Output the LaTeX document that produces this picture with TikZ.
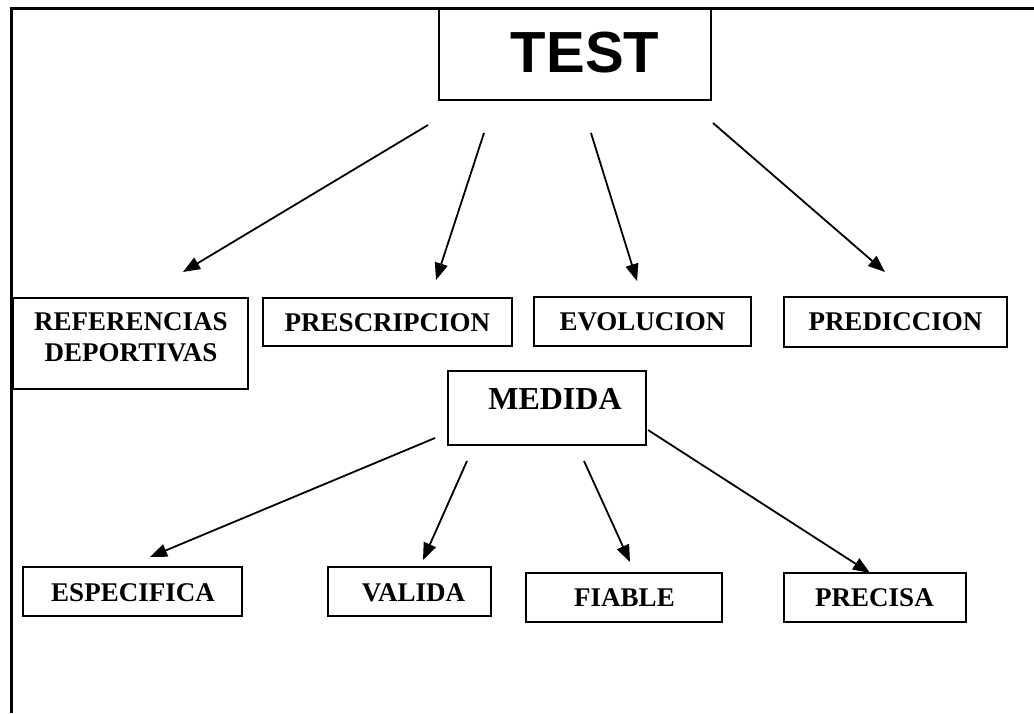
\documentclass[tikz,border=0pt]{standalone}
\usepackage{fontspec}
\setmainfont{Liberation Serif}
\newfontfamily\arialfont{Liberation Sans}
\usetikzlibrary{arrows.meta}
\begin{document}
\begin{tikzpicture}[x=1pt,y=-1pt,
  box/.style={draw,line width=2pt,inner sep=0pt},
  arr/.style={line width=1.8pt,-{Triangle[length=17pt,width=13pt]}},
  lbl/.style={font=\bfseries\fontsize{27}{31}\selectfont,align=center,inner sep=0pt},
  frameline/.style={line width=3pt}]
\useasboundingbox (0,0) rectangle (1034,713);
% frame
\coordinate (fbl) at (11,713);
\coordinate (ftl) at (11,8);
\coordinate (ftr) at (1034,8);
\draw[frameline] (fbl) -- (ftl) -- (ftr);
% boxes
\node[box,minimum width=272pt,minimum height=91pt] (test) at (575,54.5) {};
\node[box,minimum width=235pt,minimum height=91pt] (ref) at (130.5,343.5) {};
\node[box,minimum width=249pt,minimum height=48pt] (presc) at (387.5,322) {};
\node[box,minimum width=217pt,minimum height=49pt] (evol) at (642.5,321.5) {};
\node[box,minimum width=223pt,minimum height=50pt] (pred) at (895.5,322) {};
\node[box,minimum width=198pt,minimum height=74pt] (medida) at (547,408) {};
\node[box,minimum width=219pt,minimum height=49pt] (espec) at (132.5,591.5) {};
\node[box,minimum width=163pt,minimum height=49pt] (valida) at (409.5,591.5) {};
\node[box,minimum width=196pt,minimum height=49pt] (fiable) at (624,597.5) {};
\node[box,minimum width=182pt,minimum height=49pt] (precisa) at (875,597.5) {};
% texts
\node[inner sep=0pt,font=\arialfont\bfseries\fontsize{58}{60}\selectfont] (testt) at (585,52.5) {TEST};
\node[lbl] (reft) at (131,337.5) {REFERENCIAS\\DEPORTIVAS};
\node[lbl] (presct) at (387.5,322.5) {PRESCRIPCION};
\node[lbl] (evolt) at (642.5,322) {EVOLUCION};
\node[lbl] (predt) at (895.5,322) {PREDICCION};
\node[lbl,font=\bfseries\fontsize{32}{36}\selectfont] (medidat) at (555,399) {MEDIDA};
\node[lbl] (espect) at (133,592.5) {ESPECIFICA};
\node[lbl] (validat) at (413.5,592.5) {VALIDA};
\node[lbl] (fiablet) at (624.5,598) {FIABLE};
\node[lbl] (precisat) at (874.5,598) {PRECISA};
% arrow ends
\coordinate (a1s) at (428,125); \coordinate (a1e) at (183,272);
\coordinate (a2s) at (484,133); \coordinate (a2e) at (436,280);
\coordinate (a3s) at (591,133); \coordinate (a3e) at (637,281);
\coordinate (a4s) at (713,123); \coordinate (a4e) at (885,272);
\coordinate (b1s) at (435,438); \coordinate (b1e) at (150,557);
\coordinate (b2s) at (467,461); \coordinate (b2e) at (423,560);
\coordinate (b3s) at (584,461); \coordinate (b3e) at (630,562);
\coordinate (b4s) at (648,430); \coordinate (b4e) at (870,573);
\draw[arr] (a1s) -- (a1e);
\draw[arr] (a2s) -- (a2e);
\draw[arr] (a3s) -- (a3e);
\draw[arr] (a4s) -- (a4e);
\draw[arr] (b1s) -- (b1e);
\draw[arr] (b2s) -- (b2e);
\draw[arr] (b3s) -- (b3e);
\draw[arr] (b4s) -- (b4e);
\end{tikzpicture}
\end{document}
